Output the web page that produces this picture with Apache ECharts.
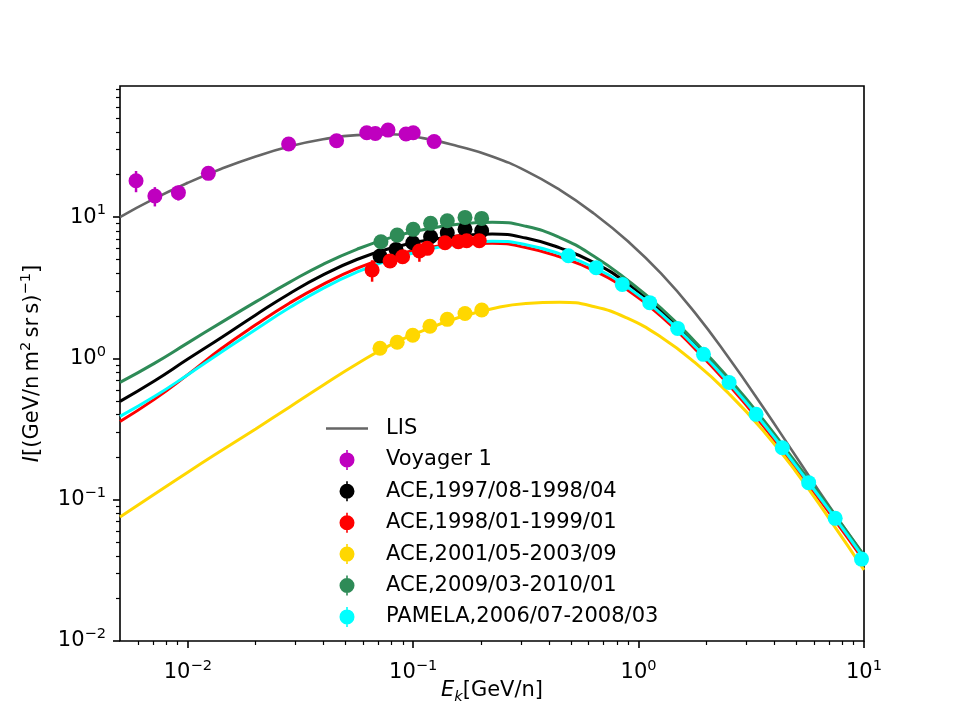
<!DOCTYPE html>
<html>
<head>
<meta charset="utf-8">
<title>Spectra</title>
<script src="https://cdn.jsdelivr.net/npm/echarts@6.0.0/dist/echarts.min.js"></script>
<style>
  html, body { margin: 0; padding: 0; background: #fff; }
  #chart { width: 960px; height: 720px; }
</style>
</head>
<body>
<div id="chart"></div>
<script>
// model curves, read on a common E_k grid [GeV/n]
const curveE = [0.005, 0.0071, 0.01, 0.0141, 0.02, 0.0282, 0.0398, 0.0562, 0.0794, 0.112, 0.158, 0.224,
  0.316, 0.447, 0.631, 0.891, 1.26, 1.78, 2.51, 3.55, 5.01, 7.08, 10]
const lisCurve = [10.0, 13.51, 17.5, 21.98, 26.85, 31.59, 35.52, 38.06, 38.59, 36.06, 31.77, 26.89,
  21.26, 15.57, 10.65, 6.80, 3.98, 2.10, 1.01, 0.457, 0.2007, 0.088, 0.0405]
const aceACurve = [0.4966, 0.6918, 0.9886, 1.406, 2.032, 2.871, 3.899, 5.012, 6.026, 6.792, 7.362, 7.586,
  7.112, 6.053, 4.786, 3.396, 2.163, 1.262, 0.6998, 0.3614, 0.1766, 0.0845, 0.0394]
const aceBCurve = [0.3581, 0.5129, 0.7674, 1.175, 1.73, 2.46, 3.342, 4.335, 5.272, 5.984, 6.457, 6.531,
  6.095, 5.224, 4.198, 3.055, 1.982, 1.167, 0.6501, 0.3373, 0.1652, 0.0793, 0.037]
const aceCCurve = [0.0753, 0.1094, 0.1567, 0.2228, 0.317, 0.4519, 0.6457, 0.912, 1.245, 1.585, 1.941, 2.249,
  2.449, 2.495, 2.328, 1.925, 1.411, 0.9322, 0.5649, 0.3119, 0.1563, 0.0718, 0.0319]
const aceDCurve = [0.6761, 0.9226, 1.288, 1.799, 2.512, 3.451, 4.634, 5.916, 7.161, 8.166, 8.913, 9.183,
  8.61, 7.161, 5.309, 3.589, 2.265, 1.312, 0.7228, 0.3724, 0.1811, 0.0865, 0.0404]
const pamCurve = [0.389, 0.537, 0.767, 1.109, 1.603, 2.28, 3.133, 4.074, 5.012, 5.821, 6.457, 6.761,
  6.383, 5.495, 4.416, 3.199, 2.065, 1.216, 0.6776, 0.3516, 0.1722, 0.0826, 0.0385]

// measurements with errors
const voyE = [0.00589, 0.00714, 0.00908, 0.01233, 0.028, 0.0457, 0.0622, 0.0679, 0.0773, 0.0929, 0.1, 0.1238]
const voyI = [18.1, 14.1, 14.9, 20.4, 32.9, 34.7, 39.5, 39.1, 41.3, 38.7, 39.5, 34.3]
const voyErr = [3.1, 2.2, 1.8, 1.2, 1.4, 1.4, 1.5, 1.5, 1.6, 1.5, 1.5, 1.3]

const aceAE = [0.0712, 0.0839, 0.0995, 0.1194, 0.1416, 0.1697, 0.2012]
const aceAI = [5.30, 5.91, 6.58, 7.26, 7.74, 8.19, 8.00]
const aceAErr = [0.25, 0.25, 0.25, 0.3, 0.3, 0.35, 0.35]

const aceBE = [0.0657, 0.0789, 0.0897, 0.1065, 0.1153, 0.1384, 0.1585, 0.1726, 0.1963]
const aceBI = [4.22, 4.89, 5.24, 5.75, 6.01, 6.58, 6.69, 6.80, 6.80]
const aceBErr = [0.73, 0.25, 0.25, 0.92, 0.25, 0.25, 0.3, 0.3, 0.3]

const aceCE = [0.0712, 0.0849, 0.0995, 0.1186, 0.1416, 0.1697, 0.2014]
const aceCI = [1.18, 1.30, 1.46, 1.69, 1.89, 2.08, 2.20]
const aceCErr = [0.06, 0.06, 0.07, 0.07, 0.08, 0.09, 0.09]

const aceDE = [0.0719, 0.0849, 0.1, 0.1194, 0.1416, 0.1697, 0.2012]
const aceDI = [6.69, 7.46, 8.19, 9.03, 9.42, 9.95, 9.79]
const aceDErr = [0.3, 0.3, 0.35, 0.35, 0.4, 0.4, 0.4]

const pamE = [0.488, 0.648, 0.846, 1.12, 1.49, 1.94, 2.52, 3.32, 4.34, 5.68, 7.45, 9.75]
const pamI = [5.33, 4.39, 3.34, 2.48, 1.63, 1.068, 0.676, 0.402, 0.233, 0.132, 0.0738, 0.038]
const pamErr = [0.15, 0.12, 0.09, 0.07, 0.05, 0.03, 0.02, 0.012, 0.007, 0.004, 0.0025, 0.0015]

// axis ticks
const xMajor = [0.01, 0.1, 1, 10]
const xMinor = [0.006, 0.007, 0.008, 0.009, 0.02, 0.03, 0.04, 0.05, 0.06, 0.07, 0.08, 0.09,
  0.2, 0.3, 0.4, 0.5, 0.6, 0.7, 0.8, 0.9, 2, 3, 4, 5, 6, 7, 8, 9]
const yMajor = [0.01, 0.1, 1, 10]
const yMinor = [0.02, 0.03, 0.04, 0.05, 0.06, 0.07, 0.08, 0.09, 0.2, 0.3, 0.4, 0.5, 0.6, 0.7, 0.8, 0.9,
  2, 3, 4, 5, 6, 7, 8, 9, 20, 30, 40, 50, 60, 70, 80]

const FONT = 'DejaVu Sans'
const chart = echarts.init(document.getElementById('chart'))

const pairs = (xs, ys) => xs.map((x, i) => [x, ys[i]])
const bars = (xs, ys, es) => xs.map((x, i) => [x, ys[i] - es[i], ys[i] + es[i]])

const powLabel = (v) => {
  const e = Math.round(Math.log10(v))
  return '{b|10}{s|' + (e < 0 ? '\u2212' + (-e) : e) + '}'
}
const labelRich = {
  b: { fontSize: 21, lineHeight: 28, fontFamily: FONT, color: '#000' },
  s: { fontSize: 14.6, lineHeight: 12, verticalAlign: 'top', fontFamily: FONT, color: '#000' },
}

// legend icons: 55x20 box (corner dots keep the box size)
const BOX = 'M0,0h0.01v0.01h-0.01Z M55,20h-0.01v-0.01h0.01Z '
const LINE_ICON = 'path://' + BOX + 'M0,8.7H42V11.3H0Z'
const DOT_ICON = 'path://' + BOX + 'M13.5,10A7.5,7.5 0 1,1 28.5,10A7.5,7.5 0 1,1 13.5,10Z M20.2,0H21.8V20H20.2Z'

const lineSeries = (name, ys, color, width) => ({
  name: name,
  type: 'line',
  data: pairs(curveE, ys),
  symbol: 'none',
  smooth: 0.5,
  color: color,
  lineStyle: { color: color, width: width },
  z: 2,
  animation: false,
})

const pointSeries = (name, xs, ys, es, color) => [
  {
    name: name + ' err',
    type: 'custom',
    data: bars(xs, ys, es),
    encode: { x: 0, y: [1, 2] },
    color: color,
    z: 3,
    animation: false,
    renderItem: (params, api) => {
      const lo = api.coord([api.value(0), api.value(1)])
      const hi = api.coord([api.value(0), api.value(2)])
      return {
        type: 'line',
        shape: { x1: lo[0], y1: lo[1], x2: hi[0], y2: hi[1] },
        style: { stroke: color, lineWidth: 2.5 },
      }
    },
  },
  {
    name: name,
    type: 'scatter',
    data: pairs(xs, ys),
    symbol: 'circle',
    symbolSize: 15,
    itemStyle: { color: color, opacity: 1 },
    z: 4,
    animation: false,
  },
]

const names = {
  lis: 'LIS',
  voy: 'Voyager 1',
  aceA: 'ACE,1997/08-1998/04',
  aceB: 'ACE,1998/01-1999/01',
  aceC: 'ACE,2001/05-2003/09',
  aceD: 'ACE,2009/03-2010/01',
  pam: 'PAMELA,2006/07-2008/03',
}

const option = {
  backgroundColor: '#fff',
  animation: false,
  textStyle: { fontFamily: FONT },
  grid: {
    left: 120, right: 96, top: 86, bottom: 79,
    show: true, borderColor: '#000', borderWidth: 1.6,
    outerBoundsMode: 'none',
  },
  legend: {
    orient: 'vertical',
    left: 326,
    top: 418,
    padding: 0,
    itemWidth: 55,
    itemHeight: 20,
    itemGap: 10.4,
    itemStyle: { borderWidth: 0, opacity: 1 },
    textStyle: { fontSize: 21, color: '#000', fontFamily: FONT },
    selectedMode: false,
    data: [
      { name: names.lis, icon: LINE_ICON, itemStyle: { color: '#666666' } },
      { name: names.voy, icon: DOT_ICON },
      { name: names.aceA, icon: DOT_ICON },
      { name: names.aceB, icon: DOT_ICON },
      { name: names.aceC, icon: DOT_ICON },
      { name: names.aceD, icon: DOT_ICON },
      { name: names.pam, icon: DOT_ICON },
    ],
  },
  xAxis: [
    {
      type: 'log',
      position: 'bottom',
      min: 0.005,
      max: 10,
      axisLine: { show: false },
      splitLine: { show: false },
      axisTick: { show: true, length: 7, lineStyle: { color: '#000', width: 1.6 }, customValues: xMajor },
      axisLabel: { customValues: xMajor, formatter: powLabel, margin: 18, rich: labelRich },
      name: '{i|E}{k|k}{n|[GeV/n]}',
      nameLocation: 'middle',
      nameGap: 36,
      nameMoveOverlap: false,
      nameTextStyle: {
        rich: {
          i: { fontSize: 21, lineHeight: 28, fontStyle: 'italic', fontFamily: FONT, color: '#000' },
          k: { fontSize: 14.6, lineHeight: 18, verticalAlign: 'bottom', fontStyle: 'italic', fontFamily: FONT, color: '#000' },
          n: { fontSize: 21, lineHeight: 28, fontFamily: FONT, color: '#000' },
        },
      },
    },
    {
      type: 'log',
      position: 'bottom',
      min: 0.005,
      max: 10,
      axisLine: { show: false },
      splitLine: { show: false },
      axisTick: { show: true, length: 4, lineStyle: { color: '#000', width: 1.2 }, customValues: xMinor },
      axisLabel: { show: false },
    },
  ],
  yAxis: [
    {
      type: 'log',
      position: 'left',
      min: 0.01,
      max: 84.7,
      axisLine: { show: false },
      splitLine: { show: false },
      axisTick: { show: true, length: 7, lineStyle: { color: '#000', width: 1.6 }, customValues: yMajor },
      axisLabel: { customValues: yMajor, formatter: powLabel, margin: 14, rich: labelRich },
      name: '{i|I}{n|[(GeV/n\u2009m}{s|2}{n|\u2009sr\u2009s)}{s|\u22121}{n|]}',
      nameLocation: 'middle',
      nameGap: 73,
      nameMoveOverlap: false,
      nameTextStyle: {
        rich: {
          i: { fontSize: 21, lineHeight: 28, fontStyle: 'italic', fontFamily: FONT, color: '#000' },
          n: { fontSize: 21, lineHeight: 28, fontFamily: FONT, color: '#000' },
          s: { fontSize: 14.6, lineHeight: 12, verticalAlign: 'top', fontFamily: FONT, color: '#000' },
        },
      },
    },
    {
      type: 'log',
      position: 'left',
      min: 0.01,
      max: 84.7,
      axisLine: { show: false },
      splitLine: { show: false },
      axisTick: { show: true, length: 4, lineStyle: { color: '#000', width: 1.2 }, customValues: yMinor },
      axisLabel: { show: false },
    },
  ],
  series: [
    lineSeries(names.lis, lisCurve, '#666666', 2.6),
    lineSeries('aceA curve', aceACurve, '#000000', 3),
    lineSeries('aceB curve', aceBCurve, '#ff0000', 3),
    lineSeries('aceC curve', aceCCurve, '#ffd700', 3),
    lineSeries('aceD curve', aceDCurve, '#2e8b57', 3),
    lineSeries('pam curve', pamCurve, '#00ffff', 3),
    ...pointSeries(names.voy, voyE, voyI, voyErr, '#bf00bf'),
    ...pointSeries(names.aceA, aceAE, aceAI, aceAErr, '#000000'),
    ...pointSeries(names.aceB, aceBE, aceBI, aceBErr, '#ff0000'),
    ...pointSeries(names.aceC, aceCE, aceCI, aceCErr, '#ffd700'),
    ...pointSeries(names.aceD, aceDE, aceDI, aceDErr, '#2e8b57'),
    ...pointSeries(names.pam, pamE, pamI, pamErr, '#00ffff'),
  ],
}

chart.setOption(option)

window.addEventListener('resize', function () {
  chart.resize()
})
</script>
</body>
</html>
